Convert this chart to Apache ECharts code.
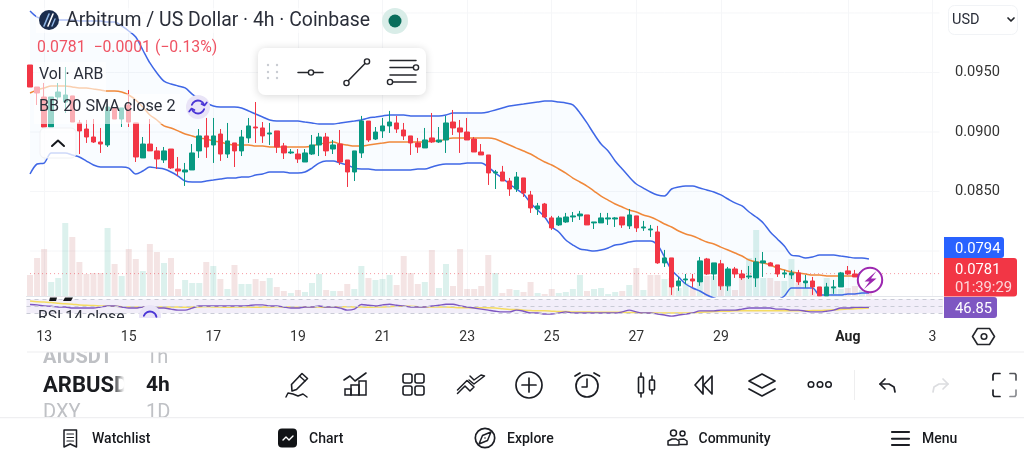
<!DOCTYPE html>
<html><head><meta charset="utf-8">
<style>html,body{margin:0;padding:0;background:#fff}#c{width:1024px;height:461px}</style>
<script src="https://cdn.jsdelivr.net/npm/echarts@6/dist/echarts.min.js"></script>
</head><body><div id="c"></div>
<script>
// Prices are written in units of 0.00001 USD; [open, close, low, high]
const candles = [
[9563,9378,9378,9563],[9378,9328,9227,9378],[9294,9042,9042,9412],[9042,9294,9042,9294],[9294,9336,9269,9412],[9252,9311,9160,9546],[9303,9084,9084,9303],[9076,9009,8815,9101],[9025,8958,8908,9101],[8958,8916,8908,9109],
[8916,8899,8824,9034],[8891,9210,8874,9235],[9202,9109,9109,9202],[9109,9202,9042,9202],[9227,9084,9042,9353],[9076,8790,8748,9076],[8782,8899,8782,8958],[8899,8841,8841,9109],[8841,8773,8689,8874],[8765,8841,8740,8874],
[8857,8698,8689,8857],[8689,8672,8631,8790],[8664,8681,8547,8740],[8681,8824,8681,8899],[8841,8967,8782,9025],[8967,8874,8782,9118],[8891,8967,8740,9118],[8983,8815,8757,9025],[8815,8925,8782,9076],[8908,8841,8706,8908],
[8841,8958,8798,9017],[8950,9051,8908,9118],[9042,9034,8908,9252],[9034,8967,8908,9084],[8983,8992,8891,9076],[9009,8874,8824,9009],[8883,8824,8773,8908],[8824,8832,8815,8857],[8815,8773,8740,8857],[8748,8824,8748,8857],
[8815,8891,8807,8975],[8891,8958,8798,8992],[8958,8841,8798,8992],[8857,8891,8815,8933],[8899,8748,8723,9017],[8765,8664,8538,8765],[8664,8841,8588,8841],[8824,9092,8782,9135],[9092,8933,8916,9092],[8941,9000,8933,9042],
[9009,9051,8950,9118],[9051,9084,8992,9177],[9076,9025,8992,9135],[9017,8967,8933,9076],[8967,8908,8807,8967],[8908,8874,8824,8950],[8866,8933,8866,9034],[8950,8916,8908,9160],[8916,8933,8908,9042],[8933,9076,8824,9135],
[9084,9034,8975,9185],[9034,9000,8824,9101],[9000,8933,8933,9118],[8941,8832,8832,8958],[8832,8807,8807,8899],[8807,8656,8555,8807],[8656,8664,8521,8681],[8664,8588,8588,8715],[8588,8521,8463,8614],[8521,8622,8496,8664],
[8614,8488,8454,8614],[8471,8362,8320,8505],[8353,8379,8303,8404],[8395,8286,8278,8404],[8278,8194,8177,8295],[8219,8278,8211,8295],[8244,8286,8236,8320],[8286,8295,8244,8328],[8295,8311,8261,8337],[8303,8219,8219,8303],
[8236,8244,8185,8244],[8236,8278,8236,8320],[8269,8278,8219,8320],[8269,8278,8202,8286],[8286,8219,8194,8286],[8211,8303,8185,8353],[8295,8194,8160,8295],[8194,8202,8169,8253],[8177,8185,8118,8219],[8160,7900,7892,8211],
[7900,7942,7866,8009],[7942,7698,7631,7942],[7707,7748,7665,7782],[7757,7765,7723,7807],[7765,7748,7698,7807],[7740,7917,7707,7950],[7933,7807,7799,7942],[7807,7900,7757,7900],[7892,7707,7673,7925],[7707,7849,7665,7866],
[7849,7807,7774,7866],[7807,7774,7757,7841],[7782,7790,7765,7874],[7774,7908,7698,7942],[7900,7917,7782,7992],[7900,7874,7874,7908],[7883,7807,7782,7883],[7807,7816,7774,7841],[7799,7816,7765,7841],[7816,7740,7715,7841],
[7732,7748,7690,7799],[7748,7698,7631,7782],[7698,7623,7623,7698],[7623,7698,7623,7732],[7690,7698,7640,7757],[7698,7816,7698,7824],[7833,7807,7799,7874],[7807,7782,7782,7841],[7782,7820,7782,7830],[7820,7810,7800,7830]
];
const bbUpper = [
10017,9966,9949,9941,9941,9941,9941,9933,9933,9933,
9933,9924,9924,9891,9849,9798,9689,9580,9496,9428,
9403,9387,9370,9319,9277,9244,9218,9210,9210,9210,
9202,9177,9151,9126,9101,9092,9092,9092,9092,9084,
9076,9067,9067,9067,9076,9084,9092,9101,9118,9126,
9135,9143,9143,9143,9135,9135,9135,9135,9135,9143,
9160,9160,9160,9160,9160,9168,9185,9202,9218,9227,
9235,9244,9252,9260,9260,9252,9244,9227,9160,9076,
8983,8899,8841,8757,8689,8622,8563,8529,8496,8471,
8463,8521,8538,8547,8547,8529,8513,8496,8471,8437,
8404,8379,8328,8286,8236,8160,8101,8042,7966,7958,
7941,7950,7966,7966,7966,7958,7950,7941,7941,7933];
const bbMiddle = [
9328,9353,9370,9387,9387,9387,9378,9370,9370,9361,
9353,9344,9344,9336,9311,9269,9210,9143,9101,9051,
9034,9009,8983,8967,8950,8941,8925,8916,8899,8891,
8891,8891,8882,8882,8874,8874,8874,8874,8874,8874,
8882,8899,8907,8916,8899,8891,8882,8882,8891,8899,
8907,8916,8916,8916,8916,8916,8916,8925,8925,8941,
8950,8950,8950,8950,8950,8950,8941,8916,8891,8865,
8840,8815,8781,8748,8723,8689,8655,8613,8580,8546,
8504,8462,8428,8395,8370,8344,8328,8302,8286,8260,
8227,8202,8168,8143,8126,8101,8075,8059,8033,8008,
7983,7958,7924,7907,7899,7882,7857,7840,7823,7815,
7807,7798,7798,7790,7790,7790,7790,7790,7798,7798];
const bbLower = [
8647,8731,8739,8823,8823,8823,8807,8790,8756,8723,
8706,8706,8706,8706,8697,8647,8672,8706,8697,8689,
8664,8630,8588,8580,8580,8588,8596,8605,8613,8613,
8622,8622,8638,8647,8664,8664,8664,8655,8655,8664,
8697,8739,8756,8756,8739,8723,8697,8689,8689,8681,
8681,8681,8681,8681,8681,8689,8689,8706,8723,8731,
8731,8731,8739,8739,8739,8706,8655,8613,8563,8521,
8479,8403,8344,8286,8202,8160,8092,8050,8017,8008,
8000,8008,8025,8050,8059,8075,8084,8084,8084,8050,
7949,7840,7781,7723,7689,7664,7630,7605,7588,7571,
7563,7546,7546,7546,7554,7563,7588,7622,7689,7689,
7689,7689,7630,7630,7630,7630,7639,7639,7647,7647];
const volumes = [
21,38,47,14,18,73,59,34,22,23,
23,68,32,20,47,37,25,52,44,33,
38,7,16,13,13,34,30,17,7,31,
12,12,17,15,18,9,5,3,6,4,
13,22,6,5,5,12,7,30,18,16,
17,21,11,40,23,12,14,46,8,32,
10,47,7,7,10,41,23,3,7,6,
4,14,3,2,7,3,4,7,21,5,
7,8,2,4,5,11,28,6,21,21,
17,18,8,13,8,13,20,20,18,10,
6,17,38,66,18,18,15,15,37,13,
12,7,7,18,10,7,8,10,6,6];
const rsi = [
55,54,51,50,48,48,45,45,45,45,
48,51,51,48,45,45,48,48,45,45,
42,39,39,45,51,51,51,51,51,51,
51,52,54,54,51,51,48,45,45,48,
48,51,48,48,45,39,42,55,53,51,
54,56,53,51,48,48,48,51,53,56,
56,51,48,45,42,39,36,34,34,39,
36,31,31,28,28,31,34,31,31,31,
31,31,31,31,34,39,34,31,31,28,
25,22,25,28,31,37,37,37,39,39,
39,42,45,45,45,45,42,42,39,39,
36,34,34,36,39,45,45,47,47,46.85];
const rsiMa = [
65,63,62,61,59,57,56,54,53,52,
51,50,50,49,48,48,48,48,48,48,
48,48,47,48,48,49,48,48,47,48,
48,48,47,48,48,49,48,48,47,48,
48,48,47,48,48,49,48,48,47,48,
48,49,50,50,50,49,48,48,48,48,
47,46,46,46,46,46,45,43,41,41,
39,38,37,37,36,35,35,34,34,34,
33,33,33,33,33,32,32,31,31,31,
31,31,31,31,31,33,34,35,36,36,
37,37,37,37,37,37,37,37,37,37,
37,38,38,39,40,41,42,43,44,45];
const dayLabels = ['13','15','17','19','21','23','25','27','29','Aug','3'];
const dayLabelIndex = [2,14,26,38,50,62,74,86,98,116,128];
const priceLabels = [0.095,0.09,0.085];
const priceGrid = [0.1,0.095,0.09,0.085,0.08];
const lastPrice = 0.0781;

const SLOTS = 130;
const cats = Array.from({length:SLOTS},()=> '');
dayLabels.forEach((t,k)=>{cats[dayLabelIndex[k]]=t;});
const usd = v => v/1e5;
const isTick = (i,v)=> v!=='';
const GRIDC = '#f5f6f8';
const UP='#089981', DOWN='#F23645';
const volumeForceDown = new Set([88]);

const volData = volumes.map((v,i)=>{
  const up = candles[i][1]>=candles[i][0] && !volumeForceDown.has(i);
  return {value:v,itemStyle:{color: up?'rgba(8,153,129,0.14)':'rgba(190,95,95,0.17)'}};
});

/* ---- chrome helpers ---- */
const Z=100, INK='#1c1e24';
const els=[];
function add(o){o.z=o.z||Z;o.silent=true;els.push(o);return o;}
function pl(points,stroke=INK,lw=1.6,z){add({type:'polyline',shape:{points},style:{stroke,lineWidth:lw,fill:null,lineCap:'round',lineJoin:'round'},z});}
function pg(points,fill,z,stroke,lw){add({type:'polygon',shape:{points},style:{fill:fill||'none',stroke:stroke||null,lineWidth:lw||1,lineJoin:'round'},z});}
function ci(cx,cy,r,stroke=INK,lw=1.6,fill='none',z){add({type:'circle',shape:{cx,cy,r},style:{stroke,lineWidth:lw,fill},z});}
function re(x,y,width,height,fill='none',stroke=null,lw=1,r=0,z,extra){add({type:'rect',shape:{x,y,width,height,r},style:Object.assign({fill,stroke,lineWidth:lw},extra||{}),z});}
function ar(cx,cy,r,a0,a1,stroke=INK,lw=1.6,z){add({type:'arc',shape:{cx,cy,r,startAngle:a0,endAngle:a1,clockwise:true},style:{stroke,lineWidth:lw,fill:null,lineCap:'round'},z});}
function tx(text,x,y,font,fill=INK,align='left',z){add({type:'text',x,y:y+1,style:{text,font,fill,align,verticalAlign:'middle',textAlign:align,textVerticalAlign:'middle'},z});}
const R='Roboto, sans-serif';
const rad=Math.PI/180;

/* legend fades */
re(36,8,345,25,'rgba(255,255,255,0.6)',null,1,0,90);
re(34,62,72,32,'rgba(255,255,255,0.6)',null,1,0,90);
re(34,94,146,30,'rgba(255,255,255,0.6)',null,1,0,90);

/* title */
ci(49,20,10,'none',0,'#1b2d4d');
pl([[44,26],[49,14]],'#8fb6e6',1.6); pl([[48,26],[53,14]],'#ffffff',1.6); pl([[52,26],[55,19]],'#8fb6e6',1.4);
tx('Arbitrum / US Dollar · 4h · Coinbase',66,20,'19.4px '+R,'#2a2e39');
ci(395,21,13,'none',0,'#d9ede8'); ci(395,21,6.5,'none',0,'#0a6e5c');
tx('0.0781  −0.0001 (−0.13%)',37,47,'15.8px '+R,'#ef5363');
tx('Vol · ARB',39,74.5,'15.8px '+R,'#2a2e39');
tx('BB 20 SMA close 2',39,106,'16.2px '+R,'#2a2e39');
function syncIcon(cx,cy,r0){
  ci(cx,cy,r0,'none',0,'#e9e4f7');
  ar(cx,cy,6.5,200*rad,340*rad,'#4a35d6',1.9);
  ar(cx,cy,6.5,20*rad,160*rad,'#4a35d6',1.9);
  pl([[cx+3.5,cy-3],[cx+6.5,cy-1.6],[cx+8.8,cy-4.5]],'#4a35d6',1.7);
  pl([[cx-3.5,cy+3],[cx-6.5,cy+1.6],[cx-8.8,cy+4.5]],'#4a35d6',1.7);
}
syncIcon(198,107,12);
re(40,128,36,30,'rgba(255,255,255,0.75)','#f0f1f4',1,5);
pl([[52,146],[58,140.5],[64,146]],'#15171c',2);

/* drawing toolbar */
add({type:'rect',shape:{x:258,y:48,width:168,height:47,r:7},style:{fill:'#fff',shadowBlur:8,shadowColor:'rgba(0,0,0,0.16)',shadowOffsetY:1}});
[268,277].forEach(x=>[65,72,78].forEach(y=>ci(x,y,1.2,'none',0,'#c9ccd2')));
pl([[298,72.5],[323,72.5]],'#24262b',1.5); ci(311,72.5,2.6,'#24262b',1.4,'#fff');
pl([[348,81],[365.5,63]],'#24262b',1.5); ci(346.5,83,2.6,'#24262b',1.4,'#fff'); ci(367,61.5,2.6,'#24262b',1.4,'#fff');
pl([[390,60.5],[416,60.5]],'#24262b',1.5); pl([[390,67.5],[413,67.5]],'#24262b',1.5); ci(416,67.5,2.6,'#24262b',1.4,'#fff');
pl([[390,75],[416,75]],'#24262b',1.5); pl([[392,82],[416,82]],'#24262b',1.5); ci(390,82,2.6,'#24262b',1.4,'#fff');

/* bolt */
ci(870,280,12.2,'#9c27b0',2,'#fff');
pg([[876.5,271],[864.5,281.5],[869.5,281.5],[864,289],[876.5,278.5],[871,278.5]],'#9c27b0');

/* price tags */
re(944,237,60,21,'#2962FF',null,1,[0,3,3,0]);
tx('0.0794',955,248,'14.8px '+R,'#fff');
re(944,258,73,38.5,'#F23645',null,1,[0,3,3,0]);
tx('0.0781',955,269,'14.8px '+R,'#fff');
tx('01:39:29',955,287,'14.8px '+R,'rgba(255,255,255,0.8)');
re(944,297,53,21,'#7E57C2',null,1,[0,3,3,0]);
tx('46.85',955,308,'14.8px '+R,'#fff');

/* USD */
re(948.5,5.5,69,29,'#fff','#f1f3f6',1,6);
tx('USD',952,19,'14.5px '+R,'#2a2e39');
pl([[1008,18],[1011,21],[1014,18]],'#24262b',1.7);

/* clipped pane legend */
pg([[50,297.5],[57,297.5],[56,301],[49,301]],'#14161a');
pg([[65,297.5],[73,297.5],[71,301],[63,301]],'#14161a');
tx('RSI 14 close',38,317,'15.8px '+R,'#2a2e39');
ci(150,316,11,'none',0,'#e9e4f7');
ar(150,318,6.5,200*rad,350*rad,'#4a35d6',1.9);
re(27,318,917,10,'#fff',null,1,0,101);

/* hexagon */
pg([[978,329],[990,329],[995,337],[990,345],[978,345],[973,337]].map(p=>[p[0]-.5,p[1]-.5]),'none',Z,'#24262b',1.6);
ci(984,336.5,2.8,'#24262b',1.6);

/* symbol picker */
tx('AIUSDT',43,357,'bold 20px '+R,'#bfc1c5');
tx('1h',146,357,'20px '+R,'#bfc1c5');
tx('DXY',43,412,'20px '+R,'#bfc1c5');
tx('1D',146,412,'20px '+R,'#bfc1c5');
tx('ARBUSD',43,385,'bold 22px '+R,'#1a1c20');
tx('4h',146,385,'bold 21px '+R,'#1a1c20');
add({type:'rect',shape:{x:112,y:374,width:18,height:24},style:{fill:{type:'linear',x:0,y:0,x2:1,y2:0,colorStops:[{offset:0,color:'rgba(255,255,255,0)'},{offset:.7,color:'#fff'},{offset:1,color:'#fff'}]}}});
re(27,344,200,8,'#fff',null,1,0,101);
re(27,417,200,10,'#fff',null,1,0,101);
re(27,351.5,997,1,'#ededf0',null,1,0,102);
re(0,417,1024,1.2,'#efeff1',null,1,0,102);

/* tool icons */
pg([[292,391],[291.5,384.5],[302,373.5],[307.5,378.5],[296.5,389.5]],'none',Z,INK,1.6);
pl([[299.5,376],[305,381]],INK,1.4);
pl([[286,397],[288,393],[293,394],[298,396],[303,394],[307,397]],INK,1.5);
pl([[344,380],[350,376],[355,381],[366,373]],INK,1.6);
re(345,389,6,6,'none',INK,1.5); re(351,385,8,10,'none',INK,1.5); re(359,381,7,14,'none',INK,1.5);
[[403,374],[415,374],[403,386],[415,386]].forEach(p=>re(p[0],p[1],9,9,'none',INK,1.6,2));
pl([[457.5,390],[467,380.5],[474,387],[470,391],[465,386],[457.5,393.5]],INK,1.5);
pl([[469,380],[474,384],[484.5,376],[481,375],[474,380],[470,376]],INK,1.5);
ci(529,385,13,INK,1.7); pl([[522,385],[536,385]],INK,1.7); pl([[529,378],[529,392]],INK,1.7);
ci(587,386,11,INK,1.7); pl([[587,379],[587,387],[582,387]],INK,1.6);
pl([[575,376],[580,373]],INK,1.7); pl([[594,373],[599.5,376]],INK,1.7);
re(638.5,377,5,16,'none',INK,1.6,1); pl([[641,373],[641,377]],INK,1.6); pl([[641,393],[641,397]],INK,1.6);
re(649.5,380,5,10,'none',INK,1.6,1); pl([[652,376],[652,380]],INK,1.6); pl([[652,390],[652,394]],INK,1.6);
pg([[703,376],[695,385],[703,394]],'none',Z,INK,1.7); pg([[712,376],[703.5,385],[712,394]],'none',Z,INK,1.7);
pg([[762,374],[775,381],[762,388],[749,381]],'none',Z,INK,1.7);
pl([[749,389],[762,396],[775,389]],INK,1.7);
[811,820,828.5].forEach(x=>ci(x,384.5,2.8,INK,1.5));
re(854,370,1,30,'#eeeeef');
pl([[885,379],[880,384],[885,389]],INK,1.7); pl([[880,384],[889,384],[894,387],[895,392]],INK,1.7);
pl([[943,379],[948,384],[943,389]],'#dcdde0',1.7); pl([[948,384],[939,384],[934,387],[933,392]],'#dcdde0',1.7);
pl([[1000,373.5],[994,373.5],[993,375],[993,380]],INK,1.7);
pl([[1010,373.5],[1015,373.5],[1016,375],[1016,380]],'#55575c',1.7);
pl([[993,390],[993,395],[994,396.5],[1000,396.5]],INK,1.7);
pl([[1016,390],[1016,395],[1015,396.5],[1010,396.5]],'#8b8d92',1.7);

/* bottom nav */
const NAV='500 14px '+R;
tx('Watchlist',92,438.5,NAV,'#17191d'); tx('Chart',309,438.5,NAV,'#17191d');
tx('Explore',507,438.5,NAV,'#17191d'); tx('Community',698.5,438.5,NAV,'#17191d'); tx('Menu',922,438.5,NAV,'#17191d');
pg([[64,430],[76.5,430],[76.5,447],[70.2,444],[64,447]],'none',Z,INK,1.5);
[434,437.5,441].forEach(y=>pl([[67,y],[73.5,y]],INK,1.2));
re(278,428.5,19,19,'#111316',null,1,4);
pl([[283,440],[286,437],[289,440],[293,436]],'#fff',1.4);
ci(485,438,9.7,INK,1.7); pg([[491,432],[487.5,440.5],[479,444],[482.5,435.5]],'none',Z,INK,1.5); ci(485,438,.8,'none',0,INK);
ci(673.5,433,3,INK,1.5); ci(682.5,433.5,2.5,INK,1.5);
pl([[668,445],[668,441],[672,439],[676,439],[679,441],[679,445],[668,445]],INK,1.5);
pl([[679,439.5],[684,439],[687,441],[687,444.5],[680,444.5]],INK,1.5);
[432,438.8,445].forEach(y=>pl([[892,y],[909,y]],INK,2.1));

/* ---- chart ---- */
const gridLineSeries = priceGrid.map(v=>({
  name:'grid '+v,type:'line',xAxisIndex:0,yAxisIndex:0,data:cats.map(()=>v),symbol:'none',silent:true,z:0,
  lineStyle:{color:GRIDC,width:1,type:'solid'}
}));
const option = {
  animation:false,
  backgroundColor:'#fff',
  textStyle:{fontFamily:'Roboto, sans-serif'},
  grid:[
    {left:26.5,top:0,width:916.5,height:297,containLabel:false},
    {left:26.5,top:297,width:916.5,height:21,containLabel:false}
  ],
  xAxis:[
    {type:'category',gridIndex:0,data:cats,boundaryGap:true,
     axisLine:{show:true,lineStyle:{color:'#e3e5ea',width:1}},axisTick:{show:false},axisLabel:{show:false},
     splitLine:{show:true,alignWithLabel:true,interval:isTick,lineStyle:{color:GRIDC,width:1}}},
    {type:'category',gridIndex:1,data:cats,boundaryGap:true,
     axisLine:{show:false},axisTick:{show:false},
     axisLabel:{show:true,interval:isTick,margin:12,fontFamily:'Roboto',fontSize:14,color:'#333',hideOverlap:false,
       formatter:v=> v==='Aug' ? '{b|Aug}' : v, rich:{b:{fontFamily:'Roboto',fontSize:14,fontWeight:'bold',color:'#222'}}},
     splitLine:{show:false}}
  ],
  yAxis:[
    {type:'value',gridIndex:0,position:'right',min:0.076135,max:0.101092,scale:true,
     axisLine:{show:false},axisTick:{show:false},splitLine:{show:false},
     axisLabel:{show:true,customValues:priceLabels,margin:12,padding:[5,0,0,0],fontFamily:'Roboto',fontSize:14.6,color:'#333',formatter:v=>v.toFixed(4)}},
    {type:'value',gridIndex:0,min:-1,max:296,show:false,splitLine:{show:false}},
    {type:'value',gridIndex:1,min:16.6,max:76.6,show:false,splitLine:{show:false}}
  ],
  series:[
    ...gridLineSeries,
    {name:'Volume',type:'bar',xAxisIndex:0,yAxisIndex:1,data:volData,barWidth:6,silent:true,z:1},
    {name:'bandBase',type:'line',stack:'bb',xAxisIndex:0,yAxisIndex:0,data:bbLower.map(usd),symbol:'none',silent:true,lineStyle:{opacity:0},z:2},
    {name:'bandFill',type:'line',stack:'bb',xAxisIndex:0,yAxisIndex:0,data:bbUpper.map((v,i)=>usd(v-bbLower[i])),symbol:'none',silent:true,lineStyle:{opacity:0},
     areaStyle:{color:'rgba(33,150,243,0.04)',origin:'auto'},z:2},
    {name:'Last price',type:'line',xAxisIndex:0,yAxisIndex:0,data:cats.map(()=>lastPrice),symbol:'none',silent:true,z:2,
     lineStyle:{color:'rgba(242,54,69,0.5)',width:1,type:[1,3]}},
    {name:'BB upper',type:'line',xAxisIndex:0,yAxisIndex:0,data:bbUpper.map(usd),symbol:'none',smooth:0.3,silent:true,lineStyle:{color:'#3f67e6',width:1.5},z:3},
    {name:'BB lower',type:'line',xAxisIndex:0,yAxisIndex:0,data:bbLower.map(usd),symbol:'none',smooth:0.3,silent:true,lineStyle:{color:'#3f67e6',width:1.5},z:3},
    {name:'BB basis',type:'line',xAxisIndex:0,yAxisIndex:0,data:bbMiddle.map(usd),symbol:'none',smooth:0.3,silent:true,lineStyle:{color:'#f0883a',width:1.5},z:3},
    {name:'ARBUSD',type:'candlestick',xAxisIndex:0,yAxisIndex:0,
     data:candles.map(c=>c.map(usd)),barWidth:5,silent:true,z:4,
     itemStyle:{color:UP,color0:DOWN,borderColor:UP,borderColor0:DOWN,borderWidth:1}},
    {name:'RSI MA',type:'line',xAxisIndex:1,yAxisIndex:2,data:rsiMa,symbol:'none',smooth:0.3,silent:true,lineStyle:{color:'#f5dc62',width:1.5},z:3},
    {name:'RSI',type:'line',xAxisIndex:1,yAxisIndex:2,data:rsi,symbol:'none',smooth:0.3,silent:true,lineStyle:{color:'#7E57C2',width:1.4},z:4,
     markArea:{silent:true,itemStyle:{color:'rgba(126,87,194,0.1)'},data:[[{yAxis:70},{yAxis:30}]]},
     markLine:{silent:true,symbol:'none',label:{show:false},animation:false,
       lineStyle:{color:'#c9cbd6',width:1,type:[4,4]},data:[{yAxis:70},{yAxis:50},{yAxis:30}]}}
  ],
  graphic:{elements:els}
};
const chart = echarts.init(document.getElementById('c'),null,{renderer:'canvas',width:1024,height:461});
chart.setOption(option);
</script>
</body></html>
